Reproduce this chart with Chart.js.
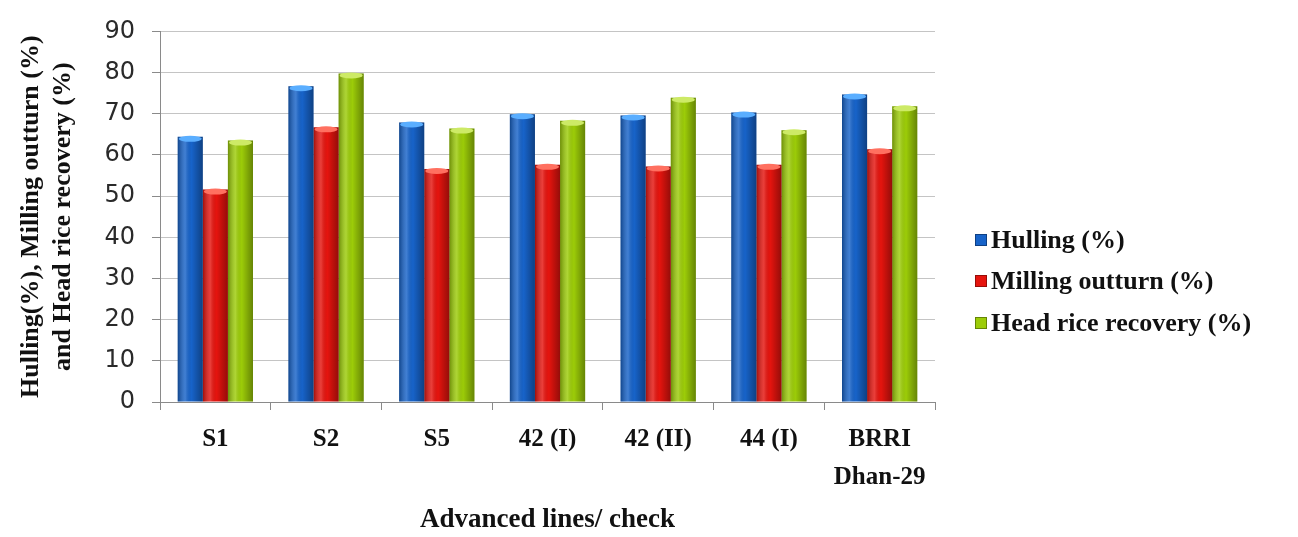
<!DOCTYPE html>
<html>
<head>
<meta charset="utf-8">
<script src="https://cdn.jsdelivr.net/npm/chart.js@4.4.1/dist/chart.umd.min.js"></script>
<style>
  html, body { margin: 0; padding: 0; background: #fff; }
  #wrap { width: 1298px; height: 537px; }
</style>
</head>
<body>
<div id="wrap"><canvas id="myChart" width="1298" height="537"></canvas></div>
<script>
// data
const categories = ["S1", "S2", "S5", "42 (I)", "42 (II)", "44 (I)", ["BRRI", "Dhan-29"]];
const hulling = [64.4, 76.7, 67.9, 69.9, 69.6, 70.3, 74.7];
const milling = [51.6, 66.7, 56.6, 57.6, 57.2, 57.6, 61.4];
const headRice = [63.5, 79.8, 66.4, 68.3, 73.9, 66.0, 71.8];
const yTicks = [0, 10, 20, 30, 40, 50, 60, 70, 80, 90];

const serif = "'Liberation Serif', 'Times New Roman', serif";
const capColors = ["#5aaeff", "#ff7060", "#cdea66"];

// shading so bars look like the cylinders of the original
const cylinderShade = {
  id: "cylinderShade",
  afterDatasetsDraw(chart) {
    const ctx = chart.ctx;
    chart.data.datasets.forEach((ds, i) => {
      const meta = chart.getDatasetMeta(i);
      meta.data.forEach((bar) => {
        const { x, y, base, width } = bar.getProps(["x", "y", "base", "width"], true);
        const left = x - width / 2;
        const g = ctx.createLinearGradient(left, 0, left + width, 0);
        g.addColorStop(0, "rgba(0,0,0,0.30)");
        g.addColorStop(0.3, "rgba(255,255,255,0.18)");
        g.addColorStop(0.55, "rgba(0,0,0,0)");
        g.addColorStop(1, "rgba(0,0,0,0.35)");
        ctx.save();
        ctx.fillStyle = g;
        ctx.fillRect(left, y, width, base - y);
        ctx.beginPath();
        ctx.ellipse(x, y + 2, width / 2 - 1, 3, 0, 0, Math.PI * 2);
        ctx.fillStyle = capColors[i];
        ctx.fill();
        ctx.restore();
      });
    });
  }
};

// legend drawn to the right, lower than centre like the original
const sideLegend = {
  id: "sideLegend",
  afterDraw(chart) {
    const ctx = chart.ctx;
    const rows = [240, 281, 323];
    ctx.save();
    ctx.font = "bold 26px " + serif;
    ctx.textBaseline = "middle";
    chart.data.datasets.forEach((ds, i) => {
      ctx.fillStyle = ds.backgroundColor;
      ctx.fillRect(975, rows[i] - 6, 12, 12);
      ctx.strokeStyle = "rgba(0,0,0,0.35)";
      ctx.strokeRect(975.5, rows[i] - 5.5, 11, 11);
      ctx.fillStyle = "#111";
      ctx.fillText(ds.label, 991, rows[i] + 1);
    });
    ctx.restore();
  }
};

const ctx = document.getElementById("myChart").getContext("2d");
const myChart = new Chart(ctx, {
  type: "bar",
  data: {
    labels: categories,
    datasets: [
      { label: "Hulling (%)", data: hulling, backgroundColor: "#1763c9" },
      { label: "Milling outturn (%)", data: milling, backgroundColor: "#e5140e" },
      { label: "Head rice recovery (%)", data: headRice, backgroundColor: "#9ccc08" }
    ]
  },
  options: {
    responsive: false,
    animation: false,
    layout: { padding: { top: 27, right: 363, bottom: 0, left: 0 } },
    datasets: {
      bar: { categoryPercentage: 0.68, barPercentage: 1.0, borderWidth: 0 }
    },
    plugins: {
      legend: { display: false },
      tooltip: { enabled: false }
    },
    scales: {
      x: {
        afterFit: (scale) => { scale.height = 135; },
        grid: { drawOnChartArea: false, tickLength: 8, color: "#8a8a8a", offset: true },
        border: { color: "#8a8a8a" },
        ticks: {
          padding: 11,
          color: "#111",
          maxRotation: 0,
          font: { family: serif, size: 25, weight: "bold", lineHeight: 1.5 }
        },
        title: {
          display: true,
          text: "Advanced lines/ check",
          color: "#111",
          padding: { top: 0, bottom: 1 },
          font: { family: serif, size: 27, weight: "bold", lineHeight: 1.2 }
        }
      },
      y: {
        min: 0,
        max: 90,
        afterFit: (scale) => { scale.width = 160; },
        afterBuildTicks: (scale) => { scale.ticks = yTicks.map((v) => ({ value: v })); },
        grid: { color: "#c4c4c4", tickColor: "#8a8a8a", tickLength: 8 },
        border: { color: "#8a8a8a" },
        ticks: {
          padding: 17,
          color: "#2a2a2a",
          font: { family: "'DejaVu Sans', sans-serif", size: 24 }
        },
        title: {
          display: true,
          text: ["Hulling(%), Milling outturn (%)", "and Head rice recovery (%)"],
          color: "#111",
          padding: { top: 15, bottom: 0 },
          font: { family: serif, size: 26, weight: "bold", lineHeight: 1.25 }
        }
      }
    }
  },
  plugins: [cylinderShade, sideLegend]
});
</script>
</body>
</html>
